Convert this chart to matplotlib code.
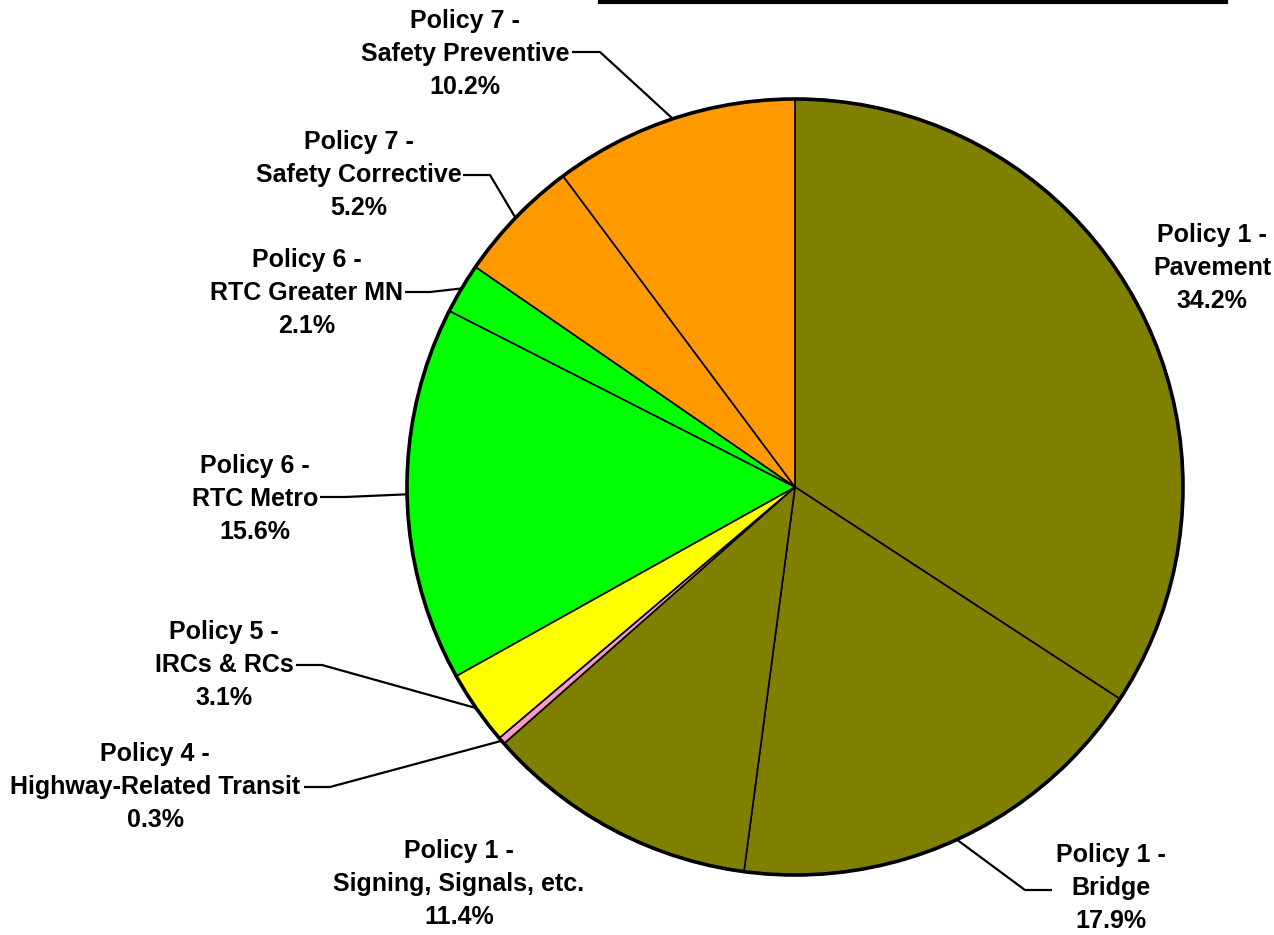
import matplotlib
matplotlib.use("Agg")
import matplotlib.pyplot as plt
import numpy as np

# ---- data ----
policies = ["Policy 1 -", "Policy 1 -", "Policy 1 -", "Policy 4 -", "Policy 5 -",
            "Policy 6 -", "Policy 6 -", "Policy 7 -", "Policy 7 -"]
categories = ["Pavement", "Bridge", "Signing, Signals, etc.", "Highway-Related Transit",
              "IRCs & RCs", "RTC Metro", "RTC Greater MN", "Safety Corrective",
              "Safety Preventive"]
shares = [34.2, 17.9, 11.4, 0.3, 3.1, 15.6, 2.1, 5.2, 10.2]
colors = ["#808000", "#808000", "#808000", "#FF99CC", "#FFFF00",
          "#00FF00", "#00FF00", "#FF9900", "#FF9900"]

W, H = 1274, 935
fig = plt.figure(figsize=(W / 100, H / 100), dpi=100)
ax = fig.add_axes([0, 0, 1, 1])
ax.set_xlim(0, W)
ax.set_ylim(0, H)
ax.set_aspect("equal")
ax.axis("off")

def py(y):  # convert pixel row to data y
    return H - y

cx, cy, R = 795, py(487), 388
wedges, _ = ax.pie(shares, colors=colors, startangle=90, counterclock=False,
                   center=(cx, cy), radius=R,
                   wedgeprops=dict(edgecolor="black", linewidth=1.2))
ax.add_patch(plt.Circle((cx, cy), R, fill=False, edgecolor="black", linewidth=2.6))
ax.set_xlim(0, W)
ax.set_ylim(0, H)

# ---- label layout: (text centre x, middle-line y, leader start, elbow) in pixels ----
layout = [
    ((1212, 268), None, None),
    ((1111, 888), (1052, 890), (1025, 890)),
    ((459, 884), None, None),
    ((155, 787), (304, 787), (330, 787)),
    ((224, 665), (296, 665), (322, 665)),
    ((255, 499), (320, 497), (345, 497)),
    ((307, 293), (405, 292), (430, 292)),
    ((359, 175), (463, 175), (490, 175)),
    ((465, 54), (572, 52), (600, 52)),
]

font = dict(family=["Liberation Sans", "DejaVu Sans"], weight="bold", size=18)
for w, pol, cat, v, (tpos, start, elbow) in zip(wedges, policies, categories, shares, layout):
    ax.text(tpos[0], py(tpos[1]), f"{pol}\n{cat}\n{v:.1f}%", ha="center", va="center",
            multialignment="center", linespacing=1.45, color="black", **font)
    if start is not None:
        ang = np.deg2rad((w.theta1 + w.theta2) / 2)
        ex, ey = cx + R * np.cos(ang), cy + R * np.sin(ang)
        ax.plot([start[0], elbow[0], ex], [py(start[1]), py(elbow[1]), ey],
                color="black", linewidth=1.6, solid_capstyle="butt")

# top rule (remnant of a title frame)
ax.plot([600, 1226], [py(1.5), py(1.5)], color="black", linewidth=3)

fig.savefig("out.png", dpi=100, facecolor="white")
